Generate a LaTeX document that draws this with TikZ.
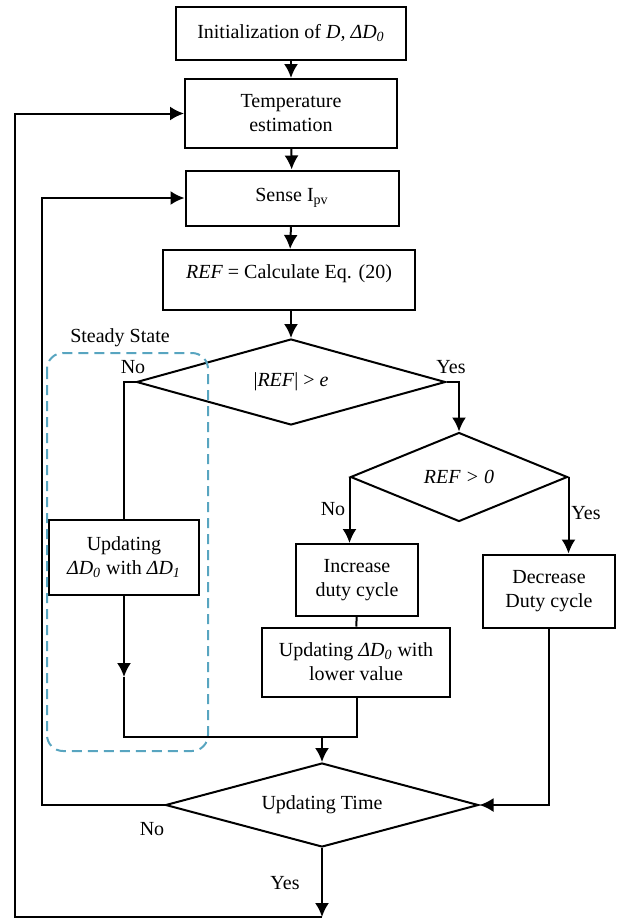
\documentclass[tikz,border=0pt]{standalone}
\usepackage{fontspec}
\setmainfont{Liberation Serif}
\usetikzlibrary{shapes.geometric,arrows.meta}
\definecolor{ssblue}{RGB}{88,165,192}
\begin{document}
\begin{tikzpicture}[x=0.5pt,y=-0.5pt,
    box/.style={draw, line width=1pt, align=center, inner sep=2pt},
    test/.style={draw, diamond, line width=1pt, inner sep=0pt, align=center},
    arrow/.style={line width=1pt, -{Latex[length=7pt,width=7pt]}},
    wire/.style={line width=1pt},
    lbl/.style={inner sep=0pt}]
    \useasboundingbox (0,0) rectangle (617,922);

    % Boxes
    \node[box, minimum width=115pt, minimum height=26.5pt] (init) at (291,33) {Initialization of \textit{D, ΔD\textsubscript{0}}};
    \node[box, minimum width=106pt, minimum height=34.5pt] (temp) at (291,113.5) {Temperature\\estimation};
    \node[box, minimum width=106.5pt, minimum height=27.5pt] (sense) at (292,198) {Sense I\textsubscript{pv}};
    \node[box, minimum width=126pt, minimum height=30pt, text depth=8pt] (ref) at (289,280) {\textit{REF} = Calculate Eq. (20)};
    \node[box, minimum width=75pt, minimum height=37.5pt] (upd) at (124,557) {Updating\\\textit{ΔD\textsubscript{0}} with \textit{ΔD\textsubscript{1}}};
    \node[box, minimum width=61pt, minimum height=36pt] (inc) at (357,580) {Increase\\duty cycle};
    \node[box, minimum width=66pt, minimum height=36.5pt] (dec) at (549,591) {Decrease\\Duty cycle};
    \node[box, minimum width=94pt, minimum height=34.5pt] (updlow) at (356,662) {Updating \textit{ΔD\textsubscript{0}} with\\lower value};

    % Decisions
    \node[test, aspect=3.6, minimum width=154.5pt, minimum height=43pt] (d1) at (291,382) {|\textit{REF}| > \textit{e}};
    \node[test, aspect=2.44, minimum width=108.5pt, minimum height=44.5pt] (d2) at (459,477) {\textit{REF > 0}};
    \node[test, aspect=3.73, minimum width=156.5pt, minimum height=42pt] (d3) at (322,805) {Updating Time};

    % Steady state region
    \draw[ssblue, line width=1pt, dash pattern=on 5pt off 3pt, rounded corners=8pt] (47,353) rectangle (208,751);
    \node[lbl] (steady) at (120,338) {Steady State};

    % Labels
    \node[lbl] (no1) at (133,367) {No};
    \node[lbl] (yes1) at (451,367) {Yes};
    \node[lbl] (no2) at (333,509) {No};
    \node[lbl] (yes2) at (586,513) {Yes};
    \node[lbl] (no3) at (152,829) {No};
    \node[lbl] (yes3) at (285,883) {Yes};

    % Helper points
    \coordinate (ssarrow) at (124,677);
    \coordinate (joinr) at (357,737);
    \coordinate (loopin) at (42,500);
    \coordinate (loopout) at (15,917);

    % Main flow
    \draw[arrow] (init) -- (temp);
    \draw[arrow] (temp) -- (sense);
    \draw[arrow] (sense) -- (ref);
    \draw[arrow] (ref.south -| d1.north) -- (d1.north);
    \draw[wire] (d1.west) -| (upd.north);
    \draw[arrow] (d1.east) -| (d2.north);
    \draw[arrow] (d2.west) -- (d2.west |- inc.north);
    \draw[arrow] (d2.east) -- (d2.east |- dec.north);
    \draw[wire] (inc) -- (updlow);
    \draw[arrow] (upd.south) -- (ssarrow);
    \draw[wire] (ssarrow) |- (joinr) -- (updlow.south -| joinr);
    \draw[arrow] (d3.north |- joinr) -- (d3.north);
    \draw[arrow] (dec.south) |- (d3.east);

    % Loops back
    \draw[arrow] (d3.west) -| (loopin) |- (sense.west);
    \draw[arrow] (d3.south) -- (d3.south |- loopout);
    \draw[arrow] (d3.south |- loopout) -- (loopout) |- (temp.west);
\end{tikzpicture}
\end{document}
